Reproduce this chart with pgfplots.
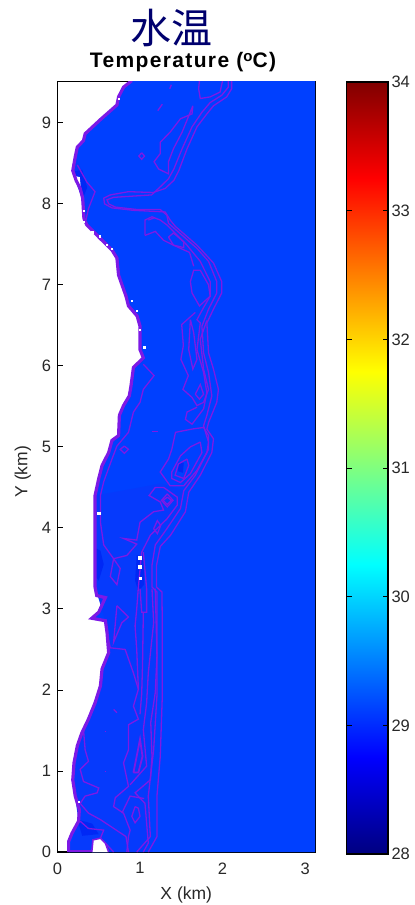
\documentclass[border=0pt]{standalone}
\usepackage{pgfplots}
\pgfplotsset{compat=1.18}
\usepackage{fontspec}
\setmainfont{Liberation Sans}
\newfontfamily\cjk{Noto Sans CJK SC}
\definecolor{water}{RGB}{0,64,255}
\definecolor{near}{RGB}{6,58,252}
\definecolor{deep}{RGB}{0,40,245}
\definecolor{ctc}{RGB}{125,25,230}
\definecolor{titlec}{RGB}{0,0,110}
\definecolor{tickc}{RGB}{40,40,40}
\begin{document}
\begin{tikzpicture}
\path[use as bounding box] (0,0) rectangle (415pt,905pt);
\begin{axis}[
  at={(57.5pt,53pt)}, anchor=south west,
  scale only axis, width=257.5pt, height=770.5pt,
  xmin=0, xmax=3.12, ymin=0, ymax=9.51,
  xtick={0,1,2,3}, ytick={0,1,...,9},
  tick align=inside, tick pos=left,
  major tick length=6pt,
  tick style={black,line width=0.9pt},
  axis line style={black,line width=1.4pt},
  ticklabel style={font=\fontsize{16.5}{16.5}\selectfont,text=tickc},
  xticklabel style={yshift=-7pt},
  yticklabel style={xshift=-3pt},
  /pgf/number format/assume math mode=true,
  xlabel={X (km)}, ylabel={Y (km)},
  label style={font=\fontsize{17.5}{18}\selectfont,text=tickc},
  xlabel shift=6pt, ylabel shift=0pt,
  ylabel style={yshift=4pt,xshift=-5pt},
  contour/.style={draw=ctc,line width=1.3pt},
]
% water body
\addplot[fill=water,draw=none] coordinates {
(0.90,9.52)(0.80,9.44)(0.74,9.32)(0.72,9.22)(0.52,9.04)(0.335,8.865)(0.315,8.78)(0.24,8.70)(0.215,8.58)(0.185,8.41)
(0.225,8.29)(0.275,8.19)(0.305,8.07)(0.32,7.82)(0.355,7.74)(0.52,7.57)(0.66,7.43)(0.72,7.33)(0.74,7.12)(0.83,6.86)
(0.86,6.74)(0.965,6.615)(1.00,6.49)(1.00,6.20)(1.04,6.10)(0.92,5.98)(0.89,5.75)(0.87,5.63)(0.80,5.51)(0.75,5.39)
(0.74,5.14)(0.66,5.08)(0.62,4.93)(0.54,4.77)(0.50,4.61)(0.455,4.40)(0.455,4.07)(0.455,3.70)(0.455,3.27)(0.475,3.165)
(0.58,3.14)(0.50,2.96)(0.415,2.885)(0.58,2.855)(0.60,2.71)(0.62,2.46)(0.54,2.26)(0.52,2.05)(0.455,1.84)(0.375,1.64)
(0.295,1.47)(0.24,1.31)(0.20,1.10)(0.185,0.89)(0.215,0.69)(0.265,0.52)(0.255,0.38)(0.175,0.23)(0.135,0.13)(0.135,0)
(3.13,0)(3.13,9.52)(0.90,9.52)};
% slightly darker near-shore water
\addplot[fill=near,draw=none] coordinates {
(0.455,4.40)(0.455,3.27)(0.58,2.855)(0.62,2.46)(0.52,2.05)(0.295,1.47)(0.185,0.89)(0.255,0.38)(0.135,0)(1.04,0)
(1.125,0.19)(1.10,0.69)(1.165,1.26)(1.205,1.93)(1.205,2.71)(1.145,3.27)(1.145,3.54)(1.185,3.79)(1.325,3.99)(1.49,4.24)
(1.53,4.46)(1.25,4.55)(1.00,4.50)(0.455,4.40)};
\addplot[fill=near,draw=none] coordinates {
(0.22,8.58)(0.19,8.41)(0.275,8.19)(0.32,7.82)(0.455,8.15)(0.355,8.27)(0.22,8.58)};
% darker patches
\addplot[fill=deep,draw=none] coordinates {(0.46,3.75)(0.52,3.72)(0.56,3.55)(0.50,3.35)(0.46,3.40)(0.46,3.75)};
\addplot[fill=deep,draw=none] coordinates {(0.96,3.66)(1.04,3.66)(1.05,3.30)(0.98,3.22)(0.94,3.35)(0.96,3.66)};
\addplot[fill=deep,draw=none] coordinates {(1.47,4.82)(1.53,4.80)(1.52,4.68)(1.46,4.70)(1.47,4.82)};
\addplot[fill=deep,draw=none] coordinates {(0.18,8.40)(0.30,8.42)(0.36,8.20)(0.30,8.05)(0.22,8.28)(0.18,8.40)};
\addplot[fill=deep,draw=none] coordinates {(0.24,0.40)(0.42,0.35)(0.50,0.22)(0.30,0.20)(0.24,0.40)};
% land inside the domain
\addplot[fill=white,draw=none] coordinates {(0.415,0)(0.43,0.15)(0.52,0.17)(0.58,0.11)(0.62,0)(0.415,0)};
\addplot[fill=white,draw=none] coordinates {(0.225,8.34)(0.27,8.33)(0.28,8.22)(0.24,8.26)(0.225,8.34)};
% coastline
\addplot[draw=ctc,line width=3.2pt] coordinates {
(0.90,9.52)(0.80,9.44)(0.74,9.32)(0.72,9.22)(0.52,9.04)(0.335,8.865)(0.315,8.78)(0.24,8.70)(0.215,8.58)(0.185,8.41)
(0.225,8.29)(0.275,8.19)(0.305,8.07)(0.32,7.82)(0.355,7.74)(0.52,7.57)(0.66,7.43)(0.72,7.33)(0.74,7.12)(0.83,6.86)
(0.86,6.74)(0.965,6.615)(1.00,6.49)(1.00,6.20)(1.04,6.10)(0.92,5.98)(0.89,5.75)(0.87,5.63)(0.80,5.51)(0.75,5.39)
(0.74,5.14)(0.66,5.08)(0.62,4.93)(0.54,4.77)(0.50,4.61)(0.455,4.40)(0.455,4.07)(0.455,3.70)(0.455,3.27)(0.475,3.165)
(0.58,3.14)(0.50,2.96)(0.415,2.885)(0.58,2.855)(0.60,2.71)(0.62,2.46)(0.54,2.26)(0.52,2.05)(0.455,1.84)(0.375,1.64)
(0.295,1.47)(0.24,1.31)(0.20,1.10)(0.185,0.89)(0.215,0.69)(0.265,0.52)(0.255,0.38)(0.175,0.23)(0.135,0.13)(0.135,0)};
\addplot[draw=ctc,line width=2pt] coordinates {(0.135,0.01)(0.41,0.01)};
\addplot[draw=ctc,line width=1.6pt] coordinates {(0.415,0)(0.43,0.15)(0.52,0.17)(0.58,0.11)(0.62,0)};
\addplot[only marks,mark=square*,mark size=1.3pt,mark options={white,draw=white}] coordinates {(1.00,3.38)(0.995,3.52)(0.995,3.63)(0.50,4.18)};
\addplot[only marks,mark=square*,mark size=0.6pt,mark options={white,draw=white}] coordinates {(0.96,6.68)(0.90,6.80)(1.05,6.23)(1.00,6.45)(0.32,7.78)(0.42,7.65)(0.60,7.50)(0.26,0.62)(0.74,9.30)(0.32,7.92)(0.51,7.60)(0.66,7.45)};
% offshore contours
\addplot[contour] coordinates {
(2.11,9.52)(2.11,9.42)(2.05,9.32)(1.89,9.21)(1.81,9.11)(1.69,8.95)(1.57,8.68)(1.47,8.41)(1.41,8.29)(1.305,8.19)(1.16,8.14)
(0.86,8.15)(0.64,8.11)(0.56,8.07)(0.57,8.00)(0.66,7.95)(0.92,7.92)(1.305,7.90)(1.365,7.80)(1.43,7.72)(1.69,7.49)(1.89,7.27)
(1.99,7.04)(1.99,6.90)(1.89,6.70)(1.81,6.53)(1.83,6.16)(1.89,5.96)(1.95,5.71)(1.93,5.55)(1.83,5.30)(1.81,5.22)(1.89,5.10)
(1.87,4.93)(1.73,4.65)(1.59,4.44)(1.55,4.20)(1.37,3.91)(1.245,3.77)(1.20,3.54)(1.20,3.27)(1.265,3.21)(1.27,2.83)(1.27,1.93)
(1.245,1.18)(1.205,0.69)(1.205,0.19)(1.10,0)};
\addplot[contour] coordinates {
(2.07,9.52)(2.07,9.44)(1.99,9.34)(1.85,9.25)(1.75,9.13)(1.63,8.95)(1.51,8.68)(1.41,8.43)(1.345,8.31)(1.245,8.21)(1.14,8.11)
(0.68,8.08)(0.60,8.05)(0.62,8.00)(0.70,7.96)(0.96,7.93)(1.245,7.93)(1.325,7.86)(1.345,7.76)(1.69,7.45)(1.83,7.29)(1.93,7.04)
(1.93,6.90)(1.83,6.70)(1.75,6.49)(1.77,6.16)(1.83,5.92)(1.87,5.63)(1.81,5.39)(1.77,5.26)(1.83,5.06)(1.81,4.93)(1.67,4.65)
(1.53,4.46)(1.49,4.24)(1.325,3.99)(1.185,3.79)(1.145,3.54)(1.145,3.27)(1.205,3.21)(1.205,2.71)(1.205,1.93)(1.165,1.26)
(1.10,0.69)(1.125,0.19)(0.96,0)};
\addplot[contour] coordinates {(1.72,9.52)(1.71,9.42)(1.73,9.30)(1.85,9.32)(1.97,9.38)(2.00,9.52)};
\addplot[contour] coordinates {(1.64,9.21)(1.63,9.11)(1.49,9.05)(1.365,8.885)(1.245,8.76)(1.245,8.62)(1.17,8.52)(1.225,8.43)(1.345,8.37)(1.345,8.52)(1.405,8.68)(1.51,8.885)(1.64,9.21)};
\addplot[contour] coordinates {(1.02,8.63)(1.055,8.59)(1.02,8.55)(0.985,8.59)(1.02,8.63)};
\addplot[contour] coordinates {(1.215,9.15)(1.27,9.23)};
\addplot[contour] coordinates {(1.36,9.42)(1.38,9.47)};
% third contour down the ribbon
\addplot[contour] coordinates {
(1.06,7.61)(1.06,7.80)(1.145,7.84)(1.245,7.80)(1.325,7.74)(1.405,7.66)(1.56,7.50)(1.73,7.29)(1.85,7.04)(1.85,6.86)(1.77,6.72)(1.69,6.57)
(1.73,6.53)(1.69,6.20)(1.77,5.92)(1.81,5.67)(1.77,5.47)(1.63,5.28)(1.55,5.34)(1.57,5.43)(1.69,5.49)};
\addplot[contour] coordinates {(1.06,7.61)(1.185,7.66)(1.285,7.55)(1.405,7.49)(1.60,7.40)(1.65,7.23)};
\addplot[contour] coordinates {(1.345,7.59)(1.405,7.64)(1.53,7.53)(1.53,7.46)(1.405,7.49)(1.345,7.59)};
\addplot[contour] coordinates {(1.61,7.04)(1.65,7.18)(1.73,7.18)(1.83,7.00)(1.85,6.86)(1.72,6.74)(1.63,6.90)(1.61,7.04)};
\addplot[contour] coordinates {(1.67,6.66)(1.505,6.51)(1.525,6.25)(1.495,6.08)(1.585,5.88)(1.52,5.71)(1.63,5.61)(1.69,5.51)(1.77,5.55)(1.83,5.71)(1.77,5.96)(1.73,6.33)(1.81,6.56)};
\addplot[contour] coordinates {(1.61,6.57)(1.59,6.20)(1.64,5.96)(1.69,6.08)(1.65,6.41)(1.61,6.57)};
\addplot[contour] coordinates {(1.67,5.65)(1.73,5.77)(1.77,5.65)(1.72,5.59)(1.67,5.65)};
% coastal and central contours
\addplot[contour] coordinates {
(1.04,6.02)(1.17,5.88)(1.04,5.71)(1.00,5.55)(0.92,5.43)(0.86,5.18)(0.72,5.01)(0.66,4.85)(0.56,4.57)(0.52,4.40)(0.52,4.07)
(0.56,3.79)(0.68,3.62)(0.84,3.66)(0.96,3.80)(0.80,3.87)(0.96,3.85)(1.00,4.07)(1.165,4.20)(1.285,4.22)(1.245,4.32)(1.11,4.40)
(1.185,4.50)(1.285,4.50)(1.45,4.38)(1.45,4.28)(1.325,4.11)(1.125,3.91)(1.02,3.70)(0.98,3.27)(0.96,3.00)(0.94,2.79)(0.96,2.50)
(0.98,2.01)(0.92,1.80)(0.98,1.64)(0.86,1.57)(0.86,1.26)(0.80,1.10)(0.86,0.81)(0.70,0.67)(0.68,0.56)(0.80,0.48)(0.88,0.27)(0.86,0.19)(0.84,0)};
\addplot[contour] coordinates {(1.33,4.42)(1.40,4.34)(1.33,4.26)(1.26,4.34)(1.33,4.42)};
\addplot[contour] coordinates {(1.33,4.38)(1.38,4.34)(1.33,4.29)(1.28,4.34)(1.33,4.38)};
\addplot[contour] coordinates {(0.81,5.01)(0.86,4.97)(0.81,4.92)(0.76,4.97)(0.81,5.01)};
\addplot[contour,line width=1.8pt] coordinates {(1.14,5.19)(1.22,5.19)};
\addplot[contour] coordinates {(1.63,5.22)(1.43,5.18)(1.385,4.97)(1.345,4.85)(1.245,4.69)(1.365,4.52)(1.53,4.52)(1.69,4.71)(1.83,4.97)(1.83,5.14)(1.77,5.24)(1.63,5.22)};
\addplot[contour] coordinates {(1.73,5.06)(1.61,5.00)(1.49,4.89)(1.385,4.69)(1.385,4.61)(1.49,4.56)(1.61,4.67)(1.75,4.93)(1.73,5.06)};
\addplot[contour] coordinates {(1.57,4.85)(1.465,4.79)(1.425,4.65)(1.53,4.61)(1.59,4.77)(1.57,4.85)};
\addplot[contour] coordinates {(1.165,3.99)(1.21,4.09)(1.25,4.03)(1.21,3.93)(1.165,3.99)};
% bottom section
\addplot[contour] coordinates {(1.00,3.25)(1.02,2.96)(1.08,2.96)(1.08,3.25)(1.04,3.70)};
\addplot[contour] coordinates {(0.72,3.04)(0.68,2.59)(0.78,2.83)(0.86,2.90)(0.72,3.04)};
\addplot[contour] coordinates {(0.68,3.62)(0.64,3.40)(0.72,3.30)(0.76,3.50)(0.68,3.62)};
\addplot[contour] coordinates {(0.60,2.70)(0.64,2.52)(0.82,2.50)(0.92,2.21)(0.98,2.01)};
\addplot[contour] coordinates {(1.04,2.95)(1.03,2.30)(1.02,1.95)(1.00,1.70)};
\addplot[contour] coordinates {(1.145,3.25)(1.165,2.83)(1.10,2.21)(1.08,1.84)(1.04,1.51)(1.08,1.06)(0.88,0.83)};
\addplot[contour,line width=1.8pt] coordinates {(0.92,0.98)(1.00,1.39)(1.03,1.18)(0.98,0.98)(0.92,0.98)};
\addplot[contour] coordinates {(1.185,3.25)(1.205,2.42)(1.185,1.97)(1.13,1.60)(1.145,1.18)(1.125,0.89)(0.94,0.73)(1.06,0.60)(1.10,0.11)(1.04,0)};
\addplot[contour] coordinates {(0.94,0.56)(0.90,0.44)(0.94,0.36)(1.00,0.44)(0.98,0.54)(0.94,0.56)};
\addplot[contour] coordinates {(0.78,0.48)(0.88,0.69)(1.05,0.66)};
\addplot[contour] coordinates {(0.315,1.51)(0.335,1.26)(0.375,1.12)(0.275,1.02)(0.315,0.87)(0.50,0.79)(0.48,0.73)(0.335,0.69)(0.275,0.60)(0.375,0.48)(0.52,0.40)(0.83,0.19)(0.86,0)};
\addplot[contour] coordinates {(0.275,0.38)(0.375,0.29)(0.56,0.27)(0.52,0.17)};
\addplot[contour] coordinates {(0.58,0.11)(0.68,0.00)};
\addplot[contour] coordinates {(0.24,8.48)(0.355,8.27)(0.455,8.15)(0.375,7.94)(0.345,7.80)};
\addplot[contour] coordinates {(0.68,1.76)(0.72,1.72)};
\addplot[contour] coordinates {(0.57,1.49)(0.59,1.49)};
\addplot[contour] coordinates {(0.57,0.99)(0.59,0.99)};
\addplot[contour] coordinates {(1.10,7.80)(1.18,7.83)};
\end{axis}
% colour scale
\begin{axis}[
  at={(346.5pt,51pt)}, anchor=south west,
  scale only axis, width=41.5pt, height=772pt,
  xmin=0, xmax=1, ymin=28, ymax=34,
  xtick=\empty, ytick={28,29,...,34},
  tick align=inside, major tick length=5.5pt,
  tick style={black,line width=0.9pt},
  axis line style={black,line width=1.4pt},
  yticklabel pos=right, ytick pos=both,
  ticklabel style={font=\fontsize{16.5}{16.5}\selectfont,text=tickc},
  /pgf/number format/assume math mode=true,
  axis on top,
  colormap/jet, point meta min=28, point meta max=34,
]
\addplot[surf,shader=interp,point meta=y,mesh/cols=2] coordinates {(0,28)(1,28) (0,34)(1,34)};
\end{axis}
\node[text=titlec,font=\cjk\fontsize{41}{41}\selectfont] at (171pt,877pt) {水温};
\node[font=\bfseries\fontsize{21}{21}\selectfont\addfontfeatures{LetterSpace=6.5},text=black] at (183pt,843pt) {Temperature (\raisebox{6pt}{\fontsize{15}{15}\selectfont o}C)};
\end{tikzpicture}
\end{document}
